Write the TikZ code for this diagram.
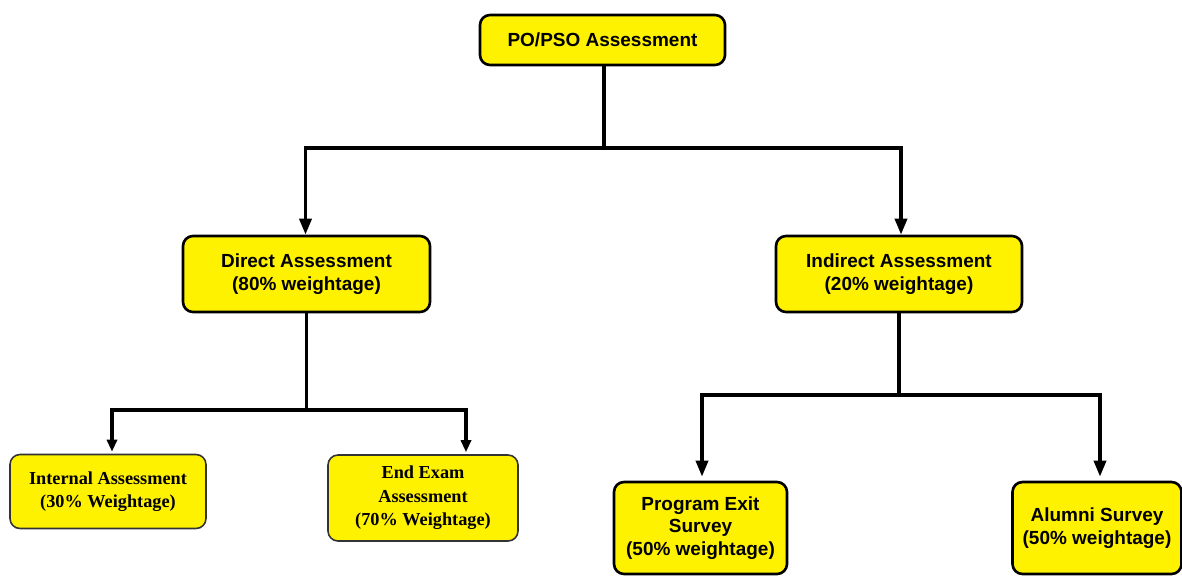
\documentclass[tikz,border=0pt]{standalone}
\usepackage{fontspec}
\setmainfont{Liberation Sans}
\newfontfamily\timesfont{Liberation Serif}
\usetikzlibrary{arrows.meta}

\tikzset{
	box/.style={draw=black, fill=yellow, line width=1.5pt, rounded corners=0.2cm, align=center, inner sep=0pt, font=\fontsize{10.8}{12.8}\selectfont\bfseries},
	tbox/.style={draw=black!80, fill=yellow, line width=0.9pt, rounded corners=0.2cm, align=center, inner sep=0pt, font=\timesfont\fontsize{10.4}{13.4}\selectfont\bfseries},
	link/.style={line width=2pt},
	arr/.style={line width=2pt, -{Triangle[length=0.32cm, width=0.24cm]}},
	sarr/.style={line width=1.8pt, -{Triangle[length=0.24cm, width=0.2cm]}}
}

\begin{document}
\begin{tikzpicture}
			\useasboundingbox (0,0) rectangle (23.64,-11.52);
			\node[box, minimum width=4.9cm, minimum height=1.0cm] (po) at (12.05,-0.8) {PO/PSO Assessment};
			\node[box, minimum width=4.94cm, minimum height=1.52cm] (direct) at (6.13,-5.48) {Direct Assessment\\(80\% weightage)};
			\node[box, minimum width=4.92cm, minimum height=1.52cm] (indirect) at (17.98,-5.48) {Indirect Assessment\\(20\% weightage)};
			\node[tbox, minimum width=3.92cm, minimum height=1.48cm] (internal) at (2.16,-9.83) {Internal Assessment\\(30\% Weightage)};
			\node[tbox, minimum width=3.8cm, minimum height=1.72cm] (endexam) at (8.46,-9.96) {End Exam\\Assessment\\(70\% Weightage)};
			\node[box, minimum width=3.46cm, minimum height=1.84cm] (exit) at (14.01,-10.56) {Program Exit\\Survey\\(50\% weightage)};
			\node[box, minimum width=3.38cm, minimum height=1.84cm] (alumni) at (21.94,-10.56) {Alumni Survey\\(50\% weightage)};
			\coordinate (j1) at (12.08,-2.96);
			\coordinate (j2) at (6.13,-8.2);
			\coordinate (j3) at (17.98,-7.9);
			\draw[link] (po.south -| j1) -- (j1);
			\draw[arr] (j1) -| ([xshift=-0.02cm]direct.north);
			\draw[arr] (j1) -| ([xshift=0.04cm]indirect.north);
			\draw[link] (direct.south) -- (j2);
			\draw[sarr] (j2) -| ([xshift=0.08cm, yshift=0.04cm]internal.north);
			\draw[sarr] (j2) -| ([xshift=0.86cm, yshift=0.04cm]endexam.north);
			\draw[link] (indirect.south) -- (j3);
			\draw[arr] (j3) -| ([xshift=0.03cm, yshift=0.08cm]exit.north);
			\draw[arr] (j3) -| ([xshift=0.06cm, yshift=0.08cm]alumni.north);
		\end{tikzpicture}
\end{document}
